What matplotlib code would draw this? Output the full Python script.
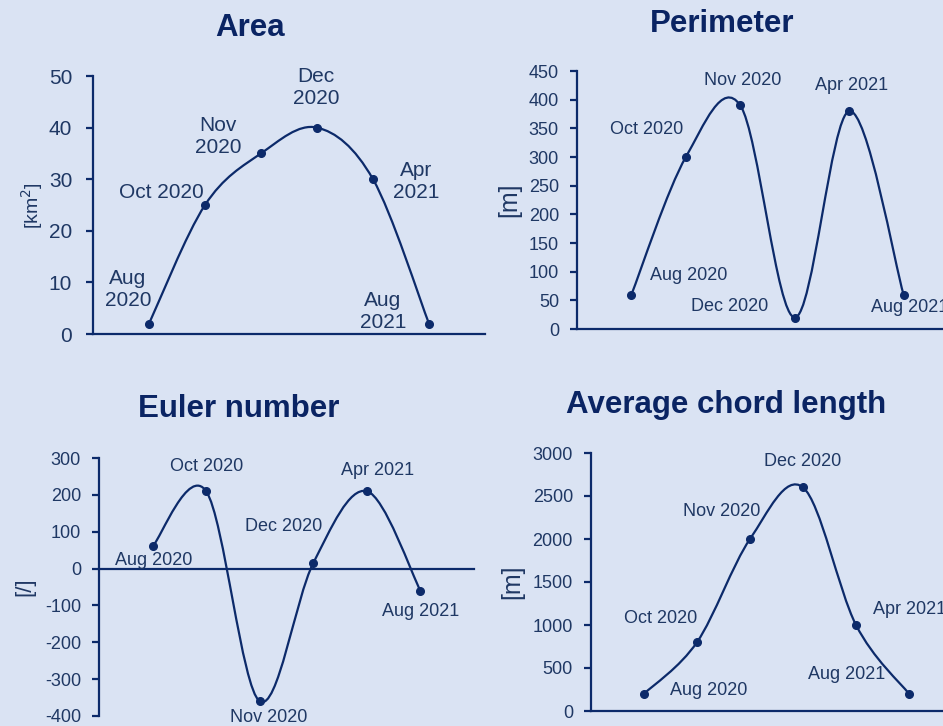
import numpy as np
import matplotlib.pyplot as plt
from matplotlib.path import Path
from matplotlib.patches import PathPatch

plt.rcParams['font.family'] = ['Liberation Sans', 'DejaVu Sans']
plt.rcParams['axes.unicode_minus'] = False

months = ['Aug 2020', 'Oct 2020', 'Nov 2020', 'Dec 2020', 'Apr 2021', 'Aug 2021']
area = [2, 25, 35, 40, 30, 2]
perimeter = [60, 300, 390, 20, 380, 60]
euler = [60, 210, -360, 15, 210, -60]
chord = [200, 800, 2000, 2600, 1000, 200]

bg = '#dae3f3'
navy = '#0c2a6a'
txt = '#1f3864'

W, H = 943, 726
fig = plt.figure(figsize=(W / 100, H / 100), dpi=100, facecolor=bg)


def px_axes(left, right, top, bottom):
    # pixel box -> figure fractions
    return fig.add_axes([left / W, (H - bottom) / H, (right - left) / W, (bottom - top) / H])


def smooth_line(ax, xs, ys):
    # excel-like smoothed line: bezier through the points
    p = np.column_stack([xs, ys]).astype(float)
    n = len(p)
    verts = [p[0]]
    codes = [Path.MOVETO]
    for i in range(n - 1):
        p0 = p[i - 1] if i > 0 else p[i]
        p3 = p[i + 2] if i + 2 < n else p[i + 1]
        c1 = p[i] + (p[i + 1] - p0) / 6
        c2 = p[i + 1] - (p3 - p[i]) / 6
        verts += [c1, c2, p[i + 1]]
        codes += [Path.CURVE4] * 3
    ax.add_patch(PathPatch(Path(verts, codes), fill=False, edgecolor=navy, lw=1.6, zorder=3))
    ax.plot(xs, ys, 'o', color=navy, ms=5.5, zorder=4)


def style(ax, ylim, yticks, tick_fs, pad):
    ax.set_facecolor(bg)
    ax.set_xlim(0, 7)
    ax.set_ylim(*ylim)
    ax.set_yticks(yticks)
    ax.set_xticks([])
    for s in ['top', 'right']:
        ax.spines[s].set_visible(False)
    for s in ['left', 'bottom']:
        ax.spines[s].set_color(navy)
        ax.spines[s].set_linewidth(1.6)
    ax.tick_params(axis='y', length=5, width=1.6, color=navy, labelcolor=txt,
                   labelsize=tick_fs, pad=pad, direction='out')
    ax.patch.set_alpha(0)


def labels(ax, xs, ys, texts, offsets, fs):
    for x, y, t, (dx, dy) in zip(xs, ys, texts, offsets):
        ax.annotate(t, (x, y), xytext=(dx, -dy), textcoords='offset pixels',
                    ha='center', va='center', fontsize=fs, color=txt)


xs = np.arange(1, 7)

# Area
ax1 = px_axes(93, 485, 76, 334)
style(ax1, (0, 50), range(0, 51, 10), 15, 10)
smooth_line(ax1, xs, area)
area_txt = ['Aug\n2020', 'Oct 2020', 'Nov\n2020', 'Dec\n2020', 'Apr\n2021', 'Aug\n2021']
labels(ax1, xs, area, area_txt,
       [(-21, -34), (-44, -12), (-43, -17), (-1, -40), (43, 2), (-46, -12)], 15)
fig.text(250 / W, 1 - 36 / H, 'Area', ha='center', va='baseline',
         fontsize=22.5, fontweight='bold', color='#0a2463')
fig.text(32 / W, 1 - 206 / H, '[km$^2$]', rotation=90, ha='center', va='center',
         fontsize=14, color=txt)

# Perimeter
ax2 = px_axes(577, 958, 71, 329)
style(ax2, (0, 450), range(0, 451, 50), 13, 8)
smooth_line(ax2, xs, perimeter)
labels(ax2, xs, perimeter, months,
       [(57, -19), (-39, -27), (2, -25), (-65, -11), (2, -26), (6, 13)], 13)
fig.text(722 / W, 1 - 32 / H, 'Perimeter', ha='center', va='baseline',
         fontsize=22.5, fontweight='bold', color='#0a2463')
fig.text(509 / W, 1 - 200 / H, '[m]', rotation=90, ha='center', va='center',
         fontsize=18, color=txt)

# Euler number
ax3 = px_axes(99, 474, 458, 716)
style(ax3, (-400, 300), range(-400, 301, 100), 13, 8)
ax3.spines['bottom'].set_position(('data', 0))
smooth_line(ax3, xs, euler)
labels(ax3, xs, euler, months,
       [(1, 14), (0, -25), (9, 16), (-30, -37), (11, -21), (0, 21)], 13)
fig.text(239 / W, 1 - 417 / H, 'Euler number', ha='center', va='baseline',
         fontsize=22.5, fontweight='bold', color='#0a2463')
fig.text(25 / W, 1 - 587 / H, '[/]', rotation=90, ha='center', va='center',
         fontsize=16, color=txt)

# Average chord length
ax4 = px_axes(591, 962, 453, 711)
style(ax4, (0, 3000), range(0, 3001, 500), 13, 8)
smooth_line(ax4, xs, chord)
labels(ax4, xs, chord, months,
       [(65, -3), (-36, -24), (-28, -27), (0, -26), (54, -16), (-62, -19)], 13)
fig.text(726 / W, 1 - 413 / H, 'Average chord length', ha='center', va='baseline',
         fontsize=22.5, fontweight='bold', color='#0a2463')
fig.text(512 / W, 1 - 582 / H, '[m]', rotation=90, ha='center', va='center',
         fontsize=18, color=txt)

fig.savefig('out.png', dpi=100, facecolor=bg)
